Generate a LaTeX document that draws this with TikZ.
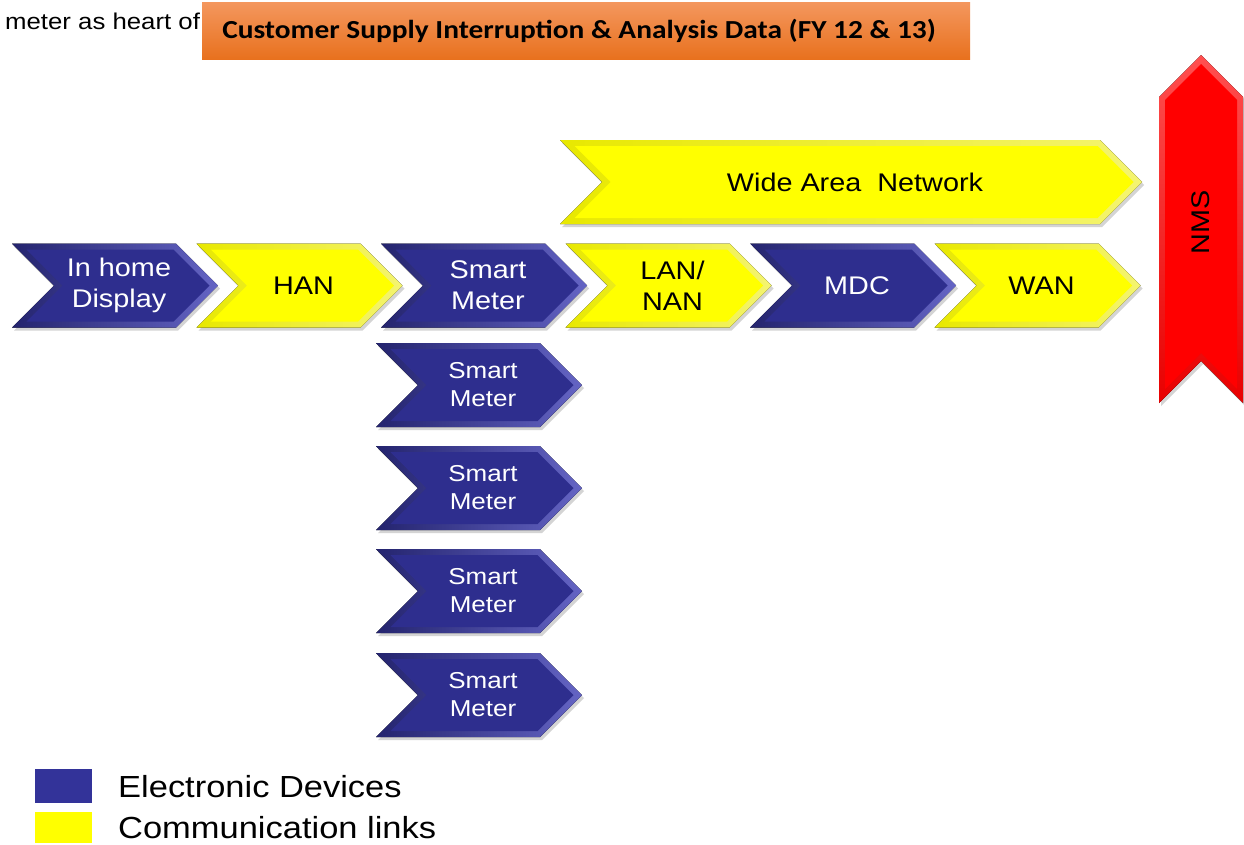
\documentclass[tikz,border=0pt]{standalone}
\usepackage{graphicx}
\usepackage{fontspec}
\setmainfont{Liberation Sans}
\newfontfamily\titlefont{Carlito}
\usetikzlibrary{calc}

\definecolor{navy}{HTML}{2E2E8E}
\definecolor{navyrimL}{HTML}{24246E}
\definecolor{navyrimR}{HTML}{6464C4}
\definecolor{legendnavy}{HTML}{333399}
\definecolor{linkyel}{HTML}{FFFF00}
\definecolor{linkrimL}{HTML}{E8E800}
\definecolor{linkrimR}{HTML}{F4F470}
\definecolor{nmsred}{HTML}{FF0000}
\definecolor{nmsrim}{HTML}{E80000}
\definecolor{nmsrimL}{HTML}{FF5050}
\definecolor{titletop}{HTML}{F4975E}
\definecolor{titlebot}{HTML}{E8711E}
\definecolor{shadowc}{HTML}{B8B8B8}

% horizontally widened lettering
\newcommand\wide[1]{\scalebox{1.13}[1]{#1}}

\tikzset{
  dev rim/.style={left color=navyrimL, right color=navyrimR},
  dev fill/.style={fill=navy},
  dev text/.style={text=white, align=center, inner sep=0pt},
  link rim/.style={left color=linkrimL, right color=linkrimR},
  link fill/.style={fill=linkyel},
  link text/.style={text=black, align=center, inner sep=0pt},
  big/.style={font=\fontsize{25.5}{31}\selectfont},
  small/.style={font=\fontsize{23}{28}\selectfont},
  legendtext/.style={font=\fontsize{30.5}{36}\selectfont, anchor=base west, inner sep=0pt},
}

% right-pointing chevron: name, left x, centre y, width, height, kind, font style, text
\newcommand\chevron[8]{%
  \pgfmathsetmacro\cvA{#2}%
  \pgfmathsetmacro\cvB{#2+#4}%
  \pgfmathsetmacro\cvT{#3-#5/2}%
  \pgfmathsetmacro\cvU{#3+#5/2}%
  \pgfmathsetmacro\cvD{#5/2}%
  \fill[shadowc, opacity=0.6] (\cvA+2,\cvT+3) -- (\cvB-\cvD+2,\cvT+3) -- (\cvB+2,#3+3)
     -- (\cvB-\cvD+2,\cvU+3) -- (\cvA+2,\cvU+3) -- (\cvA+\cvD+2,#3+3) -- cycle;
  \fill[#6 rim] (\cvA,\cvT) -- (\cvB-\cvD,\cvT) -- (\cvB,#3) -- (\cvB-\cvD,\cvU)
     -- (\cvA,\cvU) -- (\cvA+\cvD,#3) -- cycle;
  \fill[#6 fill] (\cvA+14.5,\cvT+6) -- (\cvB-\cvD-2.5,\cvT+6) -- (\cvB-8.5,#3)
     -- (\cvB-\cvD-2.5,\cvU-6) -- (\cvA+14.5,\cvU-6) -- (\cvA+\cvD+8.5,#3) -- cycle;
  \node[#6 text, #7] (#1) at ({(\cvA+\cvB)/2+4},#3) {#8};
}

\begin{document}
\begin{tikzpicture}[x=1pt, y=-1pt]
\useasboundingbox[fill=white] (0,0) rectangle (1244,844);

% text line running behind the title banner
\node[anchor=base west, inner sep=0pt, font=\fontsize{22.8}{27}\selectfont] (bgline) at (5,29) {\wide{meter as heart of}};

% title banner
\node[rectangle, minimum width=768pt, minimum height=57pt, inner sep=0pt,
      top color=titletop, bottom color=titlebot] (title) at (586,30.5) {};
\node[inner sep=0pt, font=\titlefont\bfseries\fontsize{26}{30}\selectfont] (titletext) at (579,31)
  {\wide{Customer Supply Interruption \& Analysis Data (FY 12 \& 13)}};

% wide area network band
\chevron{wan-band}{560}{182}{582}{84}{link}{big}{\wide{Wide Area\ \ Network}}

% main chain
\chevron{ihd}{12}{285.5}{206}{84}{dev}{big}{\wide{In home}\\\wide{Display}}
\chevron{han}{196.5}{285.5}{206}{84}{link}{big}{\wide{HAN}}
\chevron{sm0}{381}{285.5}{206}{84}{dev}{big}{\wide{Smart}\\\wide{Meter}}
\chevron{lan}{565.5}{285.5}{206}{84}{link}{big}{\wide{LAN/}\\\wide{NAN}}
\chevron{mdc}{750}{285.5}{206}{84}{dev}{big}{\wide{MDC}}
\chevron{wan}{934.5}{285.5}{206}{84}{link}{big}{\wide{WAN}}

% column of smart meters
\chevron{sm1}{376}{385}{206}{84}{dev}{small}{\wide{Smart}\\\wide{Meter}}
\chevron{sm2}{376}{488}{206}{84}{dev}{small}{\wide{Smart}\\\wide{Meter}}
\chevron{sm3}{376}{591}{206}{84}{dev}{small}{\wide{Smart}\\\wide{Meter}}
\chevron{sm4}{376}{695}{206}{84}{dev}{small}{\wide{Smart}\\\wide{Meter}}

% NMS ribbon pointing down
\fill[shadowc, opacity=0.6] (1203,58) -- (1245,100) -- (1245,406) -- (1203,364) -- (1161,406) -- (1161,100) -- cycle;
\fill[top color=nmsrimL, bottom color=nmsrim] (1201,55) -- (1243,97) -- (1243,403) -- (1201,361) -- (1159,403) -- (1159,97) -- cycle;
\fill[nmsred] (1201,64) -- (1237,100) -- (1237,389) -- (1201,353) -- (1165,389) -- (1165,100) -- cycle;
\node[rotate=90, inner sep=0pt, font=\fontsize{25.5}{31}\selectfont] (nms) at (1201,222) {\wide{NMS}};

% legend
\node[rectangle, fill=legendnavy, minimum width=57pt, minimum height=34pt, inner sep=0pt] (keydev) at (63.5,786) {};
\node[rectangle, fill=linkyel, minimum width=57pt, minimum height=31pt, inner sep=0pt] (keylink) at (63.5,827.5) {};
\node[legendtext] (keydevtext) at (118,797) {\wide{Electronic Devices}};
\node[legendtext] (keylinktext) at (118,838) {\wide{Communication links}};
\end{tikzpicture}
\end{document}
